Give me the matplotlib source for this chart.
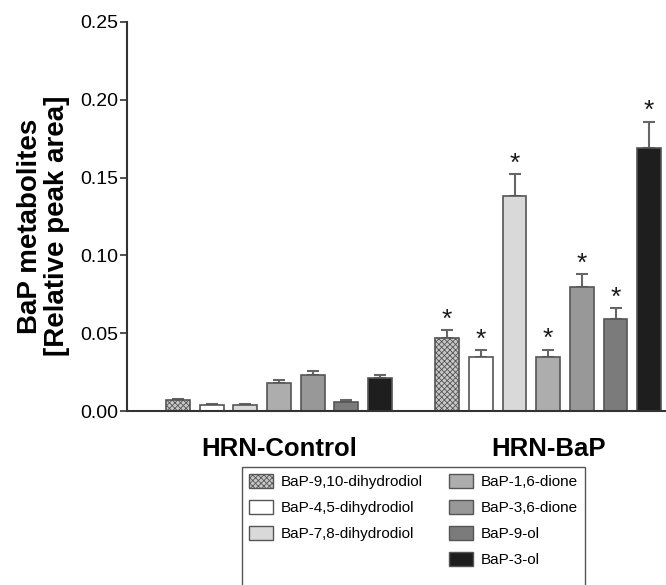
import matplotlib
matplotlib.use("Agg")
import matplotlib.pyplot as plt
from matplotlib.patches import Patch, Rectangle
from matplotlib import font_manager
import numpy as np

# Metabolite series (order of bars within each group)
metabolites = ["BaP-9,10-dihydrodiol", "BaP-4,5-dihydrodiol", "BaP-7,8-dihydrodiol",
               "BaP-1,6-dione", "BaP-3,6-dione", "BaP-9-ol", "BaP-3-ol"]
groups = ["HRN-Control", "HRN-BaP"]

control_mean = [0.007, 0.004, 0.004, 0.018, 0.023, 0.006, 0.021]
control_sem = [0.001, 0.0005, 0.0005, 0.002, 0.003, 0.001, 0.002]
bap_mean = [0.047, 0.035, 0.138, 0.035, 0.080, 0.059, 0.169]
bap_sem = [0.005, 0.004, 0.014, 0.0043, 0.008, 0.007, 0.017]
bap_significant = [True] * 7

face_colors = ["#c8c8c8", "#ffffff", "#d9d9d9", "#adadad", "#989898", "#7b7b7b", "#1e1e1e"]
hatches = ["xxxxxx", None, None, None, None, None, None]

plt.rcParams["font.family"] = ["Liberation Sans", "DejaVu Sans"]
plt.rcParams["hatch.linewidth"] = 0.6

W, H = 666, 585
fig = plt.figure(figsize=(W / 100, H / 100), dpi=100)
ax = fig.add_axes([127.5 / W, 1 - 411 / H, 1 - 127.5 / W, (411 - 22) / H])

n = len(metabolites)
group_gap = 1
bar_w = 0.71
edge = "#555555"

for g, (means, sems) in enumerate([(control_mean, control_sem), (bap_mean, bap_sem)]):
    x = np.arange(n) + g * (n + group_gap)
    for i in range(n):
        ax.bar(x[i], means[i], width=bar_w, color=face_colors[i], edgecolor=edge,
               linewidth=1.2, hatch=hatches[i], zorder=2)
        ax.errorbar(x[i], means[i], yerr=[[0], [sems[i]]], fmt="none", ecolor="#666666",
                    elinewidth=1.5, capsize=4, capthick=1.5, zorder=1)
        if g == 1 and bap_significant[i]:
            ax.annotate("*", (x[i], means[i] + sems[i]), xytext=(0, -1),
                        textcoords="offset points", ha="center", va="bottom",
                        fontsize=19, color="#1a1a1a")

ax.set_ylim(0, 0.25)
ax.set_xlim(-1.5, 2 * n + group_gap - 0.5)
ax.set_yticks(np.arange(0, 0.2501, 0.05))
ax.set_yticklabels([f"{v:.2f}" for v in np.arange(0, 0.2501, 0.05)], fontsize=14)
ax.set_xticks([(n - 1) / 2, (n - 1) / 2 + n + group_gap])
ax.set_xticklabels(groups, fontsize=18.5, fontweight="bold")
ax.tick_params(axis="x", length=0, pad=19)
ax.tick_params(axis="y", length=5, width=1.2, color="#333333", pad=2)

for side in ["top", "right"]:
    ax.spines[side].set_visible(False)
for side in ["left", "bottom"]:
    ax.spines[side].set_color("#333333")
    ax.spines[side].set_linewidth(1.5)

fig.text(30 / W, 1 - 226 / H, "BaP metabolites", rotation=90, ha="center", va="center",
         fontsize=20, fontweight="bold")
fig.text(57 / W, 1 - 226 / H, "[Relative peak area]", rotation=90, ha="center", va="center",
         fontsize=20, fontweight="bold")

handles = [Patch(facecolor=face_colors[i], edgecolor=edge, hatch=hatches[i], label=metabolites[i])
           for i in range(n)]
blank = Patch(facecolor="none", edgecolor="none", label="")
handles = handles[:3] + [blank] + handles[3:]

available = {f.name for f in font_manager.fontManager.ttflist}
legend_family = "Liberation Sans Narrow" if "Liberation Sans Narrow" in available else "Liberation Sans"

leg_left, leg_top = 242 / W, 1 - 467 / H
leg = fig.legend(handles=handles, ncol=2, loc="upper left",
                 bbox_to_anchor=(leg_left, leg_top),
                 frameon=False,
                 prop={"family": legend_family, "size": 11},
                 handlelength=1.6, handleheight=1.0, columnspacing=1.7,
                 labelspacing=0.72, borderpad=0.45, handletextpad=0.5,
                 borderaxespad=0)

# Legend box runs past the lower edge of the figure
fig.canvas.draw()
bb = leg.get_window_extent().transformed(fig.transFigure.inverted())
fig.add_artist(Rectangle((bb.x0, -0.05), bb.width, leg_top + 0.05,
                         transform=fig.transFigure, facecolor="none",
                         edgecolor="#555555", linewidth=1.0, clip_on=False))

fig.savefig("out.png", dpi=100)
